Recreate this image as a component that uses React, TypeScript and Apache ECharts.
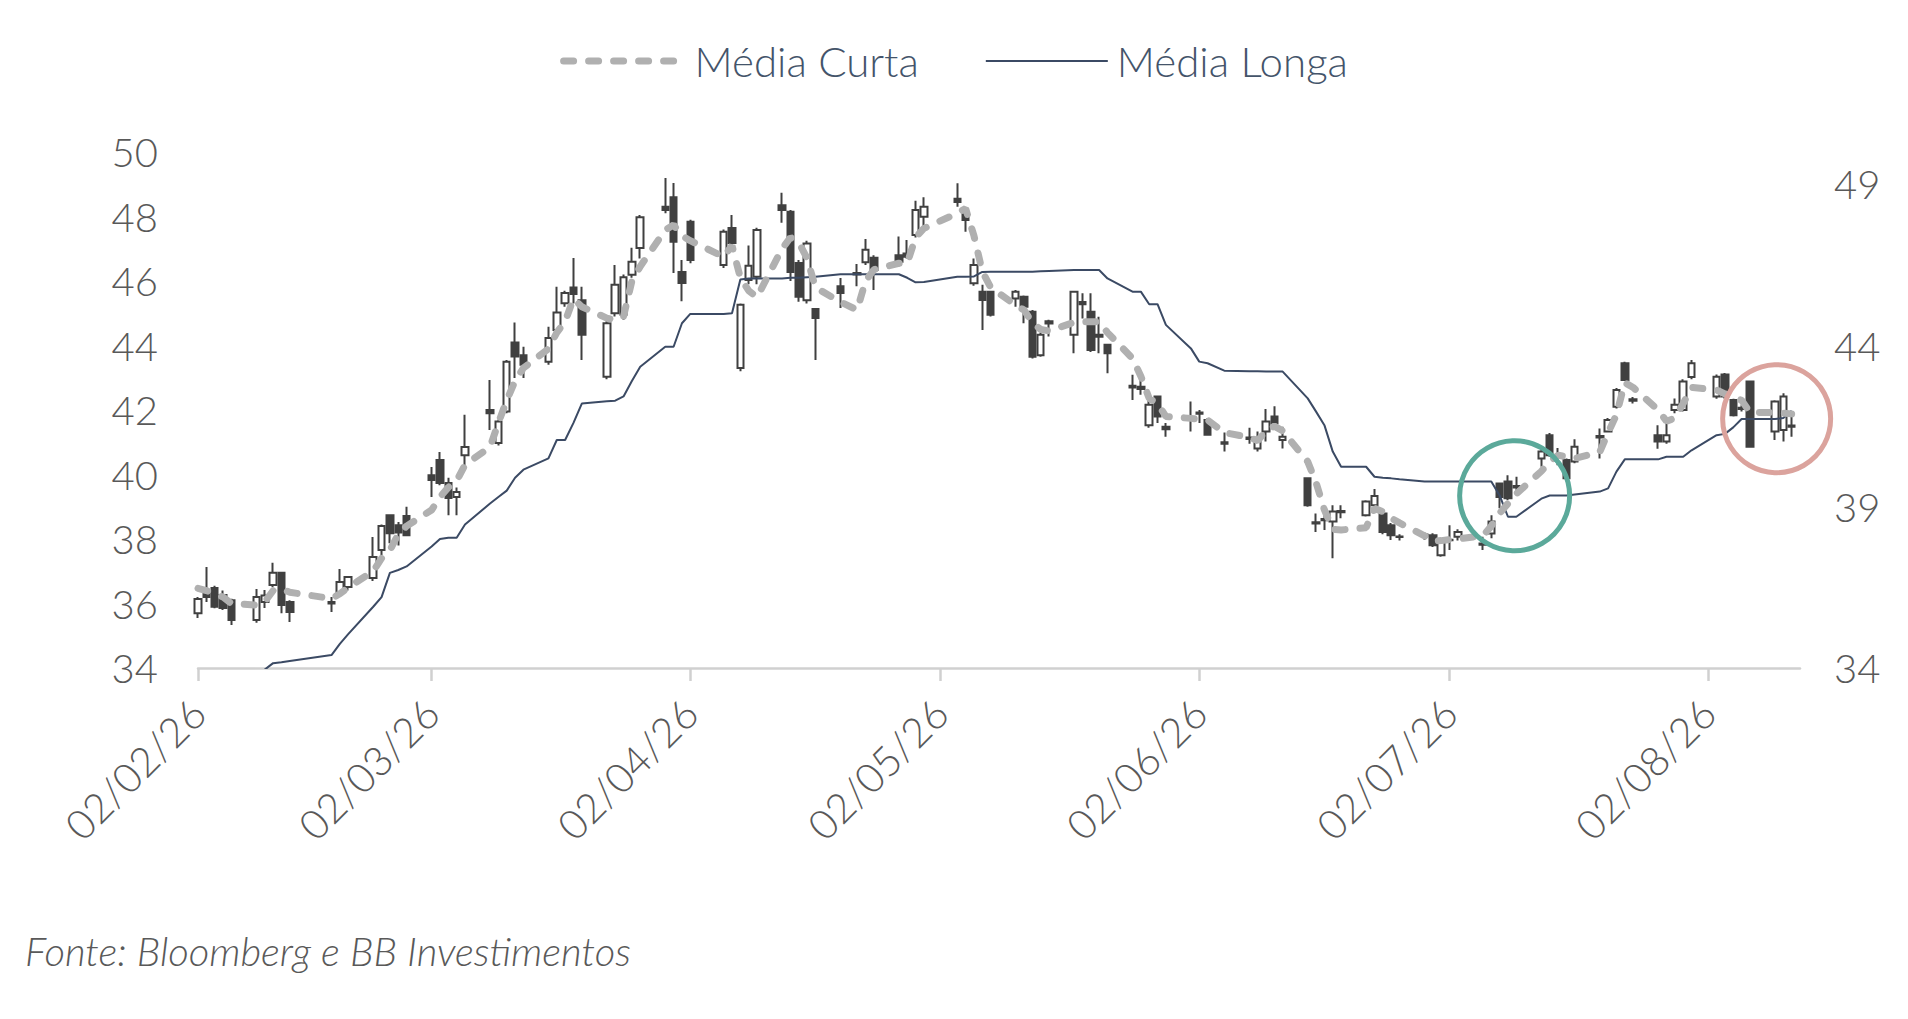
import React, { useEffect, useRef } from 'react';
import * as echarts from 'echarts';

// ---- DATA ----
const dates = [
  '2026-02-02','2026-02-03','2026-02-04','2026-02-05','2026-02-06','2026-02-09','2026-02-10','2026-02-11','2026-02-12','2026-02-13',
  '2026-02-18','2026-02-19','2026-02-20','2026-02-23','2026-02-24','2026-02-25','2026-02-26','2026-02-27',
  '2026-03-02','2026-03-03','2026-03-04','2026-03-05','2026-03-06','2026-03-09','2026-03-10','2026-03-11','2026-03-12','2026-03-13',
  '2026-03-16','2026-03-17','2026-03-18','2026-03-19','2026-03-20','2026-03-23','2026-03-24','2026-03-25','2026-03-26','2026-03-27',
  '2026-03-30','2026-03-31',
  '2026-04-01','2026-04-02','2026-04-06','2026-04-07','2026-04-08','2026-04-09','2026-04-10','2026-04-13','2026-04-14','2026-04-15',
  '2026-04-16','2026-04-17','2026-04-20','2026-04-22','2026-04-23','2026-04-24','2026-04-27','2026-04-28','2026-04-29','2026-04-30',
  '2026-05-04','2026-05-05','2026-05-06','2026-05-07','2026-05-08','2026-05-11','2026-05-12','2026-05-13','2026-05-14','2026-05-15',
  '2026-05-18','2026-05-19','2026-05-20','2026-05-21','2026-05-22','2026-05-25','2026-05-26','2026-05-27','2026-05-28','2026-05-29',
  '2026-06-01','2026-06-02','2026-06-03','2026-06-05','2026-06-08','2026-06-09','2026-06-10','2026-06-11','2026-06-12',
  '2026-06-15','2026-06-16','2026-06-17','2026-06-18','2026-06-19','2026-06-22','2026-06-23','2026-06-24','2026-06-25','2026-06-26',
  '2026-06-29','2026-06-30',
  '2026-07-01','2026-07-02','2026-07-03','2026-07-06','2026-07-07','2026-07-08','2026-07-09','2026-07-10','2026-07-13','2026-07-14',
  '2026-07-15','2026-07-16','2026-07-17','2026-07-20','2026-07-21','2026-07-22','2026-07-23','2026-07-24','2026-07-27','2026-07-28',
  '2026-07-29','2026-07-30','2026-07-31',
  '2026-08-03','2026-08-04','2026-08-05','2026-08-06','2026-08-07','2026-08-10','2026-08-11','2026-08-12'
];

const openP = [
  35.70,36.30,36.48,36.26,36.10,35.49,36.05,36.57,36.95,36.05,
  36.00,36.36,36.51,36.79,37.66,38.74,38.43,38.71,
  39.98,40.45,39.74,39.30,40.60,42.00,40.98,41.95,44.09,43.70,
  43.50,44.48,45.31,45.80,45.40,43.03,45.00,44.95,46.19,47.02,
  48.30,48.60,
  46.28,47.84,46.50,47.64,43.30,46.03,46.13,48.35,48.15,46.56,
  45.40,45.13,45.84,46.25,46.58,46.72,46.80,46.85,47.43,47.99,
  48.55,48.10,45.93,45.67,45.67,45.46,45.51,45.05,43.70,44.75,
  44.33,45.35,45.05,44.33,44.02,42.75,42.72,41.53,42.42,41.48,
  41.76,41.92,41.69,41.00,41.15,40.81,41.33,41.80,41.07,
  39.88,38.52,38.62,38.54,38.87,38.74,39.05,38.79,38.43,38.08,
  38.14,38.12,
  37.50,37.98,38.07,37.86,38.17,39.72,39.78,39.64,40.50,41.22,
  40.60,40.45,40.40,41.19,41.33,42.10,43.45,42.33,41.22,41.02,
  42.00,42.00,43.02,
  42.42,43.10,42.31,42.07,42.88,41.33,41.38,41.52
];

const closeP = [
  36.14,36.20,35.90,35.86,35.49,36.20,36.25,36.95,35.95,35.74,
  36.05,36.67,36.82,37.44,38.40,38.18,38.20,38.12,
  39.83,39.74,39.27,39.46,40.85,41.90,41.64,43.50,43.66,43.40,
  44.23,45.02,45.63,45.60,44.33,44.69,45.88,46.12,46.60,47.98,
  48.20,47.22,
  45.94,46.65,47.53,47.18,45.26,46.47,47.58,48.20,46.28,45.51,
  47.16,44.85,45.63,46.20,46.97,46.34,46.60,46.75,48.20,48.30,
  48.45,47.89,46.50,45.41,44.95,45.67,45.20,43.65,44.33,44.68,
  45.67,45.28,43.86,44.27,43.76,42.70,42.65,42.16,41.80,41.40,
  41.72,41.88,41.23,40.95,41.10,41.12,41.64,41.59,41.17,
  39.05,38.48,38.58,38.85,38.83,39.16,39.33,38.22,38.12,38.06,
  38.10,37.81,
  37.97,37.96,38.22,37.82,38.54,39.30,39.26,39.60,40.71,40.60,
  40.55,39.88,40.86,41.15,41.69,42.62,42.93,42.29,41.02,41.22,
  42.16,42.88,43.45,
  43.03,42.42,41.84,42.03,40.86,42.26,42.42,41.48
];

const lowP = [
  35.55,36.05,35.85,35.80,35.33,35.40,35.86,36.51,35.70,35.43,
  35.74,36.33,36.40,36.70,37.50,37.87,37.80,38.10,
  39.30,39.67,38.74,38.74,40.20,41.38,40.90,41.90,42.99,42.99,
  43.40,44.38,45.20,45.30,43.55,42.95,44.90,44.80,46.10,46.70,
  48.10,46.25,
  45.37,46.55,46.40,47.10,43.20,45.90,45.90,47.81,46.00,45.36,
  45.30,43.55,45.16,45.84,46.50,45.72,46.45,46.70,47.35,47.53,
  48.30,47.53,45.85,44.48,44.90,45.20,44.69,43.60,43.65,44.28,
  43.76,44.84,43.80,43.76,43.14,42.31,42.47,41.45,41.60,41.17,
  41.33,41.60,41.20,40.71,40.95,40.71,41.02,41.50,40.81,
  39.00,38.22,38.28,37.40,38.64,38.70,39.00,38.15,37.97,37.95,
  37.98,37.75,
  37.45,37.66,37.95,37.66,38.02,38.95,39.20,39.41,40.24,40.55,
  40.29,39.80,40.35,40.50,41.30,42.05,42.90,42.20,40.80,40.95,
  41.90,41.95,42.95,
  42.35,42.35,41.80,41.95,40.84,41.07,41.02,41.17
];

const highP = [
  36.20,37.13,36.55,36.40,36.15,36.45,36.42,37.26,36.97,36.10,
  36.20,37.07,36.85,38.06,38.45,38.76,38.53,39.00,
  40.23,40.70,39.90,39.60,41.85,42.93,41.70,43.55,44.71,43.96,
  44.58,45.82,45.70,46.71,45.82,44.75,46.50,46.20,47.03,48.05,
  49.19,49.04,
  46.65,47.90,47.60,48.05,45.30,47.10,47.65,48.74,48.20,46.65,
  47.25,45.15,46.09,46.53,47.30,46.80,47.38,47.27,48.49,48.60,
  49.03,48.20,46.70,45.88,45.70,45.72,45.55,45.10,44.40,44.80,
  45.70,45.62,45.62,44.89,44.05,43.09,42.93,42.30,42.45,41.60,
  42.26,42.00,41.75,41.30,41.45,41.33,42.03,42.12,41.48,
  39.90,38.79,38.74,39.05,39.05,39.20,39.55,38.85,38.50,38.15,
  38.20,38.18,
  38.00,38.43,38.30,38.07,38.74,39.75,39.98,39.93,40.80,41.29,
  40.82,40.50,41.09,41.43,41.75,42.68,43.50,42.40,41.53,41.74,
  42.36,42.95,43.55,
  43.10,43.15,42.35,42.15,42.90,42.30,42.52,41.95
];

const mediaCurta = [
  36.47,36.40,36.30,36.20,36.00,35.95,36.05,36.40,36.45,36.35,
  36.15,36.30,36.50,37.00,37.40,37.65,38.15,38.40,
  38.90,39.30,39.60,39.80,40.30,40.85,41.60,42.30,42.90,43.30,
  43.90,44.40,44.75,45.45,45.20,44.85,44.78,44.90,46.00,46.45,
  47.58,47.74,
  47.40,47.25,46.75,47.10,46.10,45.70,45.50,47.00,47.35,47.20,
  46.70,45.80,45.35,45.10,46.00,46.35,46.55,46.55,47.35,47.63,
  48.10,48.25,47.40,46.30,45.80,45.25,45.10,44.70,44.50,44.45,
  44.72,44.74,44.74,44.74,44.40,43.60,43.05,42.36,42.20,41.80,
  41.74,41.72,41.69,41.30,41.15,41.05,41.35,41.50,41.35,
  40.40,39.75,38.90,38.30,38.28,38.35,38.95,38.85,38.65,38.50,
  38.10,37.93,
  37.95,37.98,38.00,38.10,38.40,38.80,39.10,39.40,40.10,40.40,
  40.60,40.55,40.50,40.70,41.30,41.85,42.85,42.70,42.00,41.65,
  41.75,42.20,42.70,
  42.62,42.50,42.40,42.30,41.93,41.92,41.90,41.88
];

const mediaLonga = [
  null,null,null,null,null,33.70,33.95,34.15,34.18,34.22,
  34.40,34.75,35.05,35.90,36.20,36.95,37.04,37.15,
  37.77,38.00,38.04,38.04,38.45,39.10,39.30,39.50,39.90,40.15,
  40.50,41.07,41.07,41.60,42.20,42.27,42.29,42.42,42.90,43.34,
  43.96,43.96,
  44.69,44.98,44.98,45.00,46.05,46.08,46.08,46.08,46.10,46.10,
  46.12,46.13,46.21,46.21,46.21,46.21,46.21,46.10,45.96,45.97,
  46.13,46.13,46.14,46.28,46.29,46.29,46.29,46.29,46.30,46.31,
  46.34,46.34,46.34,46.34,46.08,45.67,45.67,45.28,45.28,44.64,
  43.91,43.50,43.45,43.22,43.20,43.20,43.19,43.19,43.19,
  42.36,41.95,41.53,40.71,40.24,40.24,39.93,39.90,39.88,39.85,
  39.78,39.78,
  39.78,39.78,39.78,39.78,39.78,39.35,38.69,38.69,39.25,39.35,
  39.35,39.35,39.38,39.47,39.57,40.09,40.47,40.47,40.47,40.55,
  40.55,40.55,40.75,
  41.22,41.26,41.46,41.72,41.72,41.72,41.75,41.98
];

const monthTicks = ['2026-02-02','2026-03-02','2026-04-02','2026-05-02','2026-06-02','2026-07-02','2026-08-02'];
const axisStart = '2026-02-02';
const axisEnd = '2026-08-13';

const leftTicks = { min: 34, max: 50, step: 2 };
const rightTicks = { min: 34, max: 50, step: 5 };

const annotations = [
  { date: '2026-07-09', fraction: 0.8, value: 39.34, color: '#5ba99a', size: 110 },
  { date: '2026-08-10', fraction: 0.2, value: 41.73, color: '#dba39d', size: 108 }
];

const seriesNames = { short: 'Média Curta', long: 'Média Longa', price: 'Cotação' };
const sourceText = 'Fonte: Bloomberg e BB Investimentos';

// ---- helpers ----
function toTime(s: string): number {
  const [y, m, d] = s.split('-').map(Number);
  return Date.UTC(y, m - 1, d);
}
function fmtDate(v: number): string {
  const d = new Date(v);
  const dd = String(d.getUTCDate()).padStart(2, '0');
  const mm = String(d.getUTCMonth() + 1).padStart(2, '0');
  const yy = String(d.getUTCFullYear() % 100).padStart(2, '0');
  return `${dd}/${mm}/${yy}`;
}

const FONT = 'Lato';
const LABEL_COLOR = '#595959';
const CANDLE = '#404040';
const SHORT_COLOR = '#b0b0b0';
const LONG_COLOR = '#3b4a64';
const SHORT_WIDTH = 7;
const SHORT_DASH = [10, 15];

export default function App() {
  const ref = useRef<HTMLDivElement>(null);

  useEffect(() => {
    if (!ref.current) return;
    const chart = echarts.init(ref.current, undefined, { renderer: 'svg' });

    const times = dates.map(toTime);
    const candleData = times.map((t, i) => [t, openP[i], closeP[i], lowP[i], highP[i]]);
    const curtaData = times.map((t, i) => [t, mediaCurta[i]]);
    const longaData = times.map((t, i) => [t, mediaLonga[i]]);
    const tickValues = monthTicks.map(toTime);

    const labelStyle = {
      fontFamily: FONT,
      fontWeight: 300 as any,
      fontSize: 40,
      color: LABEL_COLOR
    };
    const hiddenSymbol = { color: 'rgba(0,0,0,0)', borderWidth: 0, borderColor: 'rgba(0,0,0,0)' };

    chart.setOption({
      animation: false,
      backgroundColor: '#ffffff',
      title: {
        text: sourceText,
        left: 20,
        top: 926,
        textStyle: {
          fontFamily: FONT,
          fontWeight: 300,
          fontStyle: 'italic',
          fontSize: 40,
          color: LABEL_COLOR
        }
      },
      legend: {
        data: [
          {
            name: seriesNames.short,
            itemStyle: hiddenSymbol,
            lineStyle: { width: SHORT_WIDTH, color: SHORT_COLOR, type: SHORT_DASH, cap: 'round' }
          },
          {
            name: seriesNames.long,
            itemStyle: hiddenSymbol,
            lineStyle: { width: 2, color: LONG_COLOR }
          }
        ],
        left: 'center',
        top: 35,
        itemWidth: 122,
        itemHeight: 20,
        itemGap: 66,
        textStyle: {
          fontFamily: FONT,
          fontWeight: 300,
          fontSize: 42,
          color: '#44546a',
          padding: [0, 0, 0, 4]
        }
      },
      grid: { left: 198, right: 108, top: 152, bottom: 351, containLabel: false },
      xAxis: {
        type: 'value',
        min: toTime(axisStart),
        max: toTime(axisEnd),
        scale: true,
        splitLine: { show: false },
        axisLine: { show: true, onZero: false, lineStyle: { color: '#d0d0d0', width: 2.5 } },
        axisTick: {
          show: true,
          customValues: tickValues,
          length: 13,
          lineStyle: { color: '#d0d0d0', width: 2.5 }
        },
        axisLabel: {
          ...labelStyle,
          fontSize: 41,
          customValues: tickValues,
          rotate: 45,
          margin: 38,
          formatter: (v: number) => fmtDate(v)
        }
      },
      yAxis: [
        {
          type: 'value',
          position: 'left',
          min: leftTicks.min,
          max: leftTicks.max,
          interval: leftTicks.step,
          splitLine: { show: false },
          axisLine: { show: false },
          axisTick: { show: false },
          axisLabel: { ...labelStyle, margin: 40 }
        },
        {
          type: 'value',
          position: 'right',
          min: rightTicks.min,
          max: rightTicks.max,
          interval: rightTicks.step,
          splitLine: { show: false },
          axisLine: { show: false },
          axisTick: { show: false },
          axisLabel: { ...labelStyle, margin: 34, showMaxLabel: false }
        }
      ],
      series: [
        {
          name: seriesNames.price,
          type: 'candlestick',
          data: candleData,
          encode: { x: 0, y: [1, 2, 3, 4] },
          barWidth: 7,
          itemStyle: {
            color: '#ffffff',
            color0: CANDLE,
            borderColor: CANDLE,
            borderColor0: CANDLE,
            borderColorDoji: CANDLE,
            borderWidth: 2
          },
          z: 2
        },
        {
          name: seriesNames.long,
          type: 'line',
          data: longaData,
          symbol: 'none',
          showSymbol: false,
          lineStyle: { color: LONG_COLOR, width: 2 },
          itemStyle: { color: LONG_COLOR },
          z: 3
        },
        {
          name: seriesNames.short,
          type: 'line',
          data: curtaData,
          symbol: 'none',
          showSymbol: false,
          lineStyle: { color: SHORT_COLOR, width: SHORT_WIDTH, type: SHORT_DASH, cap: 'round' },
          itemStyle: { color: SHORT_COLOR },
          z: 4,
          markPoint: {
            silent: true,
            symbol: 'circle',
            label: { show: false },
            data: annotations.map((a) => ({
              coord: [toTime(a.date) + a.fraction * 86400000, a.value],
              symbolSize: a.size,
              itemStyle: { color: 'rgba(0,0,0,0)', borderColor: a.color, borderWidth: 5 }
            }))
          }
        }
      ]
    });

    return () => chart.dispose();
  }, []);

  return (
    <div
      ref={ref}
      style={{ position: 'fixed', left: 0, top: 0, width: 1908, height: 1019, background: '#fff' }}
    />
  );
}
